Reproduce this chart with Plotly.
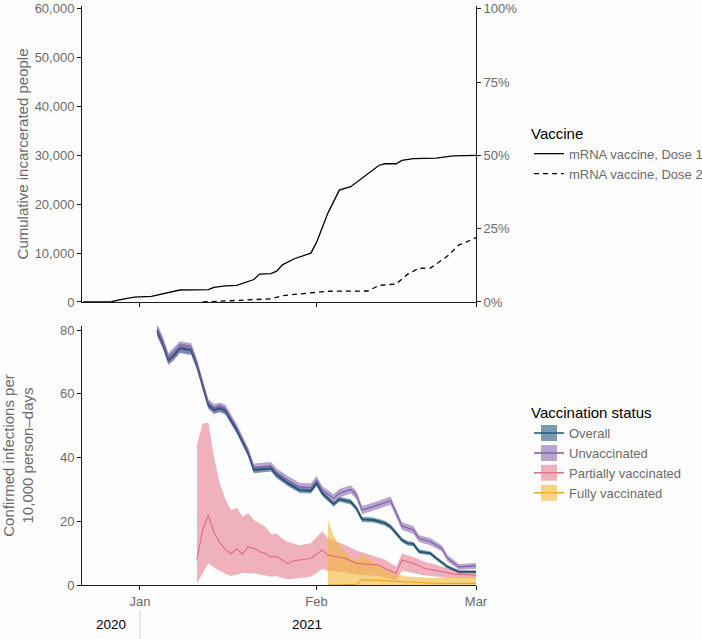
import plotly.graph_objects as go

# ---- top panel: cumulative incarcerated people vaccinated ----
dose1_dates = ['2020-12-22', '2020-12-27', '2020-12-29', '2020-12-31', '2021-01-03', '2021-01-08',
               '2021-01-13', '2021-01-14', '2021-01-16', '2021-01-18', '2021-01-21', '2021-01-22',
               '2021-01-24', '2021-01-25', '2021-01-26', '2021-01-28', '2021-01-31', '2021-02-01',
               '2021-02-03', '2021-02-05', '2021-02-07', '2021-02-10', '2021-02-12', '2021-02-13',
               '2021-02-15', '2021-02-16', '2021-02-18', '2021-02-22', '2021-02-25', '2021-03-01']
dose1_people = [0, 50, 600, 1000, 1150, 2450, 2550, 3000, 3300, 3400, 4600, 5700, 5800, 6300, 7600,
                8800, 10000, 12200, 18200, 22900, 23600, 26200, 28000, 28300, 28300, 29000, 29350,
                29450, 29900, 30000]

dose2_dates = ['2021-01-12', '2021-01-18', '2021-01-24', '2021-01-26', '2021-01-30', '2021-02-03',
               '2021-02-10', '2021-02-12', '2021-02-15', '2021-02-17', '2021-02-19', '2021-02-21',
               '2021-02-24', '2021-02-26', '2021-02-27', '2021-03-01']
dose2_people = [0, 300, 650, 1300, 1800, 2200, 2250, 3400, 3700, 5700, 6900, 6950, 9400, 11700,
                12100, 13200]

population = 60000  # 100% on the right axis

# ---- bottom panel: infection rates per 10,000 person-days ----
jan_dates = ['2021-01-04', '2021-01-05', '2021-01-06', '2021-01-07', '2021-01-08', '2021-01-10',
             '2021-01-11', '2021-01-12', '2021-01-13', '2021-01-14', '2021-01-15', '2021-01-16',
             '2021-01-18', '2021-01-20', '2021-01-21', '2021-01-24', '2021-01-25', '2021-01-27',
             '2021-01-29', '2021-01-31']

ov_dates = jan_dates + ['2021-02-01', '2021-02-02', '2021-02-04', '2021-02-05', '2021-02-07',
                        '2021-02-08', '2021-02-09', '2021-02-11', '2021-02-13', '2021-02-14',
                        '2021-02-16', '2021-02-17', '2021-02-18', '2021-02-19', '2021-02-21',
                        '2021-02-22', '2021-02-24', '2021-02-26', '2021-03-01']
ov_rate = [79.8, 75.8, 70.6, 72.2, 74.3, 73.7, 69.0, 62.7, 56.5, 54.9,
           55.4, 54.7, 48.6, 41.3, 36.1, 36.6, 34.5, 31.9, 29.8, 29.6,
           31.9, 28.8, 25.4, 26.9, 26.1, 24.1, 20.6, 20.4, 19.4, 18.3,
           14.1, 13.1, 12.9, 10.5, 9.9, 8.4, 5.7, 4.1, 4.1]
ov_hw = [1.6, 1.5, 1.5, 1.5, 1.5, 1.5, 1.4, 1.3, 1.2, 1.2,
         1.2, 1.2, 1.1, 1.0, 1.0, 1.0, 1.0, 0.9, 0.9, 0.9,
         0.9, 0.9, 0.8, 0.8, 0.8, 0.8, 0.8, 0.8, 0.8, 0.8,
         0.7, 0.7, 0.7, 0.7, 0.6, 0.6, 0.6, 0.5, 0.5]

uv_dates = jan_dates + ['2021-02-01', '2021-02-02', '2021-02-04', '2021-02-05', '2021-02-07',
                        '2021-02-08', '2021-02-09', '2021-02-11', '2021-02-14', '2021-02-16',
                        '2021-02-17', '2021-02-18', '2021-02-19', '2021-02-21', '2021-02-23',
                        '2021-02-24', '2021-02-26', '2021-03-01']
uv_rate = [80.2, 76.2, 71.0, 72.7, 74.8, 74.2, 69.4, 63.1, 57.0, 55.4,
           55.9, 55.2, 49.2, 41.9, 36.8, 37.3, 35.3, 32.8, 30.8, 30.6,
           32.9, 29.8, 27.2, 28.8, 30.0, 28.2, 23.5, 24.6, 26.5, 18.5,
           17.8, 17.3, 14.6, 13.6, 11.5, 8.4, 5.7, 6.0]
uv_hw = [1.9, 1.8, 1.8, 1.8, 1.7, 1.7, 1.6, 1.5, 1.4, 1.4,
         1.4, 1.4, 1.3, 1.3, 1.3, 1.3, 1.3, 1.3, 1.3, 1.3,
         1.3, 1.3, 1.3, 1.3, 1.3, 1.3, 1.3, 1.3, 1.3, 1.2,
         1.2, 1.2, 1.1, 1.1, 1.0, 1.0, 0.9, 0.9]

pv_dates = ['2021-01-11', '2021-01-12', '2021-01-13', '2021-01-14', '2021-01-15', '2021-01-16',
            '2021-01-17', '2021-01-18', '2021-01-19', '2021-01-20', '2021-01-21', '2021-01-22',
            '2021-01-23', '2021-01-24', '2021-01-25', '2021-01-26', '2021-01-27', '2021-01-28',
            '2021-01-29', '2021-01-31', '2021-02-02', '2021-02-03', '2021-02-06', '2021-02-08',
            '2021-02-12', '2021-02-13', '2021-02-15', '2021-02-16', '2021-02-18', '2021-02-20',
            '2021-02-23', '2021-02-25', '2021-03-01']
pv_rate = [8.0, 17.3, 22.0, 16.5, 13.3, 11.2, 9.8, 11.4, 9.7, 12.0,
           11.5, 10.5, 9.9, 8.8, 8.9, 7.8, 6.7, 7.6, 7.8, 8.3,
           11.0, 9.4, 8.4, 6.8, 6.3, 5.2, 3.7, 7.8, 6.8, 5.2,
           4.2, 3.5, 3.1]
pv_lo = [0.5, 3.7, 6.8, 5.5, 4.5, 3.5, 2.8, 3.2, 3.8, 3.7,
         3.7, 3.3, 3.0, 2.6, 2.8, 2.2, 1.8, 2.0, 2.2, 2.6,
         5.0, 4.5, 4.0, 3.2, 2.8, 2.4, 1.5, 4.5, 3.8, 3.0,
         2.5, 2.2, 2.1]
pv_hi = [43.9, 50.7, 50.9, 40.0, 32.0, 27.0, 23.5, 24.2, 21.4, 22.5,
         20.4, 19.3, 18.3, 16.0, 16.2, 14.5, 13.5, 13.0, 12.5, 13.1,
         16.9, 14.6, 12.6, 10.8, 8.6, 8.0, 5.7, 9.9, 8.8, 7.3,
         5.8, 4.8, 4.2]

fv_dates = ['2021-02-03', '2021-02-04', '2021-02-05', '2021-02-06', '2021-02-07', '2021-02-08',
            '2021-02-09', '2021-02-10', '2021-02-12', '2021-02-14', '2021-02-17', '2021-02-20',
            '2021-02-22', '2021-02-24', '2021-02-26', '2021-03-01']
fv_rate = [0, 0, 0, 0, 0, 0.2, 1.7, 1.6, 1.4, 1.1, 0.8, 0.6, 0.5, 0.5, 0.5, 0.5]
fv_lo = [0, 0, 0, 0, 0, 0, 0, 0, 0, 0, 0, 0, 0, 0, 0, 0]
fv_hi = [20.4, 15.5, 12.5, 10.3, 8.6, 7.6, 9.4, 8.2, 6.3, 3.8, 2.7, 2.4, 2.1, 2.5, 2.6, 2.6]

month_ticks = ['2021-01-01', '2021-02-01', '2021-03-01']
month_labels = ['Jan', 'Feb', 'Mar']

FONT = 'Liberation Sans, Arial, sans-serif'
GREY = '#6b6b6b'
AXC = '#1a1a1a'
BG = '#fdfdfd'
XR = ['2020-12-21 19:40', '2021-03-01']

status = [
    ('Overall', ov_dates, ov_rate,
     [v - h for v, h in zip(ov_rate, ov_hw)], [v + h for v, h in zip(ov_rate, ov_hw)],
     '#1f5672', 'rgba(40,88,128,0.6)', 1.8),
    ('Unvaccinated', uv_dates, uv_rate,
     [v - h for v, h in zip(uv_rate, uv_hw)], [v + h for v, h in zip(uv_rate, uv_hw)],
     '#7a5ca5', 'rgba(137,107,175,0.6)', 1.1),
    ('Partially vaccinated', pv_dates, pv_rate, pv_lo, pv_hi, '#df6b80', 'rgba(230,128,147,0.6)', 1.1),
    ('Fully vaccinated', fv_dates, fv_rate, fv_lo, fv_hi, '#e8aa25', 'rgba(243,183,55,0.6)', 1.1),
]

fig = go.Figure()

# top panel lines
fig.add_trace(go.Scatter(x=dose1_dates, y=dose1_people, mode='lines', name='mRNA vaccine, Dose 1',
                         line=dict(color='black', width=1.3), xaxis='x', yaxis='y', legend='legend'))
fig.add_trace(go.Scatter(x=dose2_dates, y=dose2_people, mode='lines', name='mRNA vaccine, Dose 2',
                         line=dict(color='black', width=1.3, dash='5px,4px'), xaxis='x', yaxis='y',
                         legend='legend'))
# empty trace so the right-hand percentage axis gets drawn
fig.add_trace(go.Scatter(x=[None], y=[None], xaxis='x', yaxis='y3', showlegend=False, hoverinfo='skip'))

# ribbons first, then lines (as layered in the original)
for name, d, v, lo, hi, lc, fc, lw in status:
    fig.add_trace(go.Scatter(x=d + d[::-1], y=hi + lo[::-1], mode='lines', fill='toself',
                             fillcolor=fc, line=dict(width=0), showlegend=False, hoverinfo='skip',
                             xaxis='x2', yaxis='y2'))
for name, d, v, lo, hi, lc, fc, lw in status:
    fig.add_trace(go.Scatter(x=d, y=v, mode='lines', line=dict(color=lc, width=lw),
                             showlegend=False, name=name, xaxis='x2', yaxis='y2'))
# legend keys: filled box with the line through it
for name, d, v, lo, hi, lc, fc, lw in status:
    fig.add_trace(go.Scatter(x=[None], y=[None], mode='lines+markers', name=name,
                             line=dict(color=lc, width=1.5),
                             marker=dict(symbol='square', size=16, color=fc),
                             xaxis='x2', yaxis='y2', legend='legend2'))

axis_common = dict(showline=True, linecolor=AXC, linewidth=1, ticks='outside', ticklen=4,
                   tickcolor=AXC, showgrid=False, zeroline=False, automargin=False,
                   tickfont=dict(size=13, color=GREY))

top_max = 60600
fig.update_layout(
    width=702, height=639,
    margin=dict(l=82, r=226, t=6, b=54, autoexpand=False),
    paper_bgcolor=BG, plot_bgcolor=BG,
    font=dict(family=FONT, size=13, color=GREY),
    hovermode=False,
    xaxis=dict(axis_common, domain=[0, 1], anchor='y', type='date', range=XR,
               tickvals=month_ticks, showticklabels=False),
    yaxis=dict(axis_common, domain=[0.4888, 1], anchor='x', range=[0, top_max],
               tickvals=[0, 10000, 20000, 30000, 40000, 50000, 60000], tickformat=',d',
               title=dict(text='Cumulative incarcerated people', standoff=2,
                          font=dict(size=15, color=GREY))),
    yaxis3=dict(axis_common, overlaying='y', anchor='x', side='right',
                range=[0, top_max / population], tickvals=[0, 0.25, 0.5, 0.75, 1.0],
                tickformat='.0%'),
    xaxis2=dict(axis_common, domain=[0, 1], anchor='y2', type='date', range=XR,
                tickvals=month_ticks, ticktext=month_labels),
    yaxis2=dict(axis_common, domain=[0, 0.4473], anchor='x2', range=[0, 81.3],
                tickvals=[0, 20, 40, 60, 80],
                title=dict(text='Confirmed infections per<br>10,000 person\u2013days', standoff=28,
                           font=dict(size=15, color=GREY))),
    legend=dict(title=dict(text='Vaccine', font=dict(size=15, color='black')),
                x=1.1345, y=0.8045, xanchor='left', yanchor='top',
                font=dict(size=13, color=GREY), bgcolor='rgba(0,0,0,0)'),
    legend2=dict(title=dict(text='Vaccination status', font=dict(size=15, color='black')),
                 x=1.1345, y=0.322, xanchor='left', yanchor='top',
                 font=dict(size=13, color=GREY), bgcolor='rgba(0,0,0,0)'),
)

# year row under the month labels
fig.add_annotation(x='2020-12-26 22:00', y=-0.0674, xref='x2', yref='paper', text='2020',
                   showarrow=False, font=dict(size=13.5, color='black'), yanchor='middle')
fig.add_annotation(x='2021-01-30 08:00', y=-0.0674, xref='x2', yref='paper', text='2021',
                   showarrow=False, font=dict(size=13.5, color='black'), yanchor='middle')
fig.add_shape(type='line', xref='x2', yref='paper', x0='2021-01-01', x1='2021-01-01',
              y0=-0.045, y1=-0.0933, line=dict(color='#d0d0d0', width=1))

# drop the browser's default page margin so the figure sits at the window corner
fig.write_html('out.html', config={'displayModeBar': False},
               post_script="document.body.style.margin='0';"
                           "document.body.style.overflow='hidden';")
